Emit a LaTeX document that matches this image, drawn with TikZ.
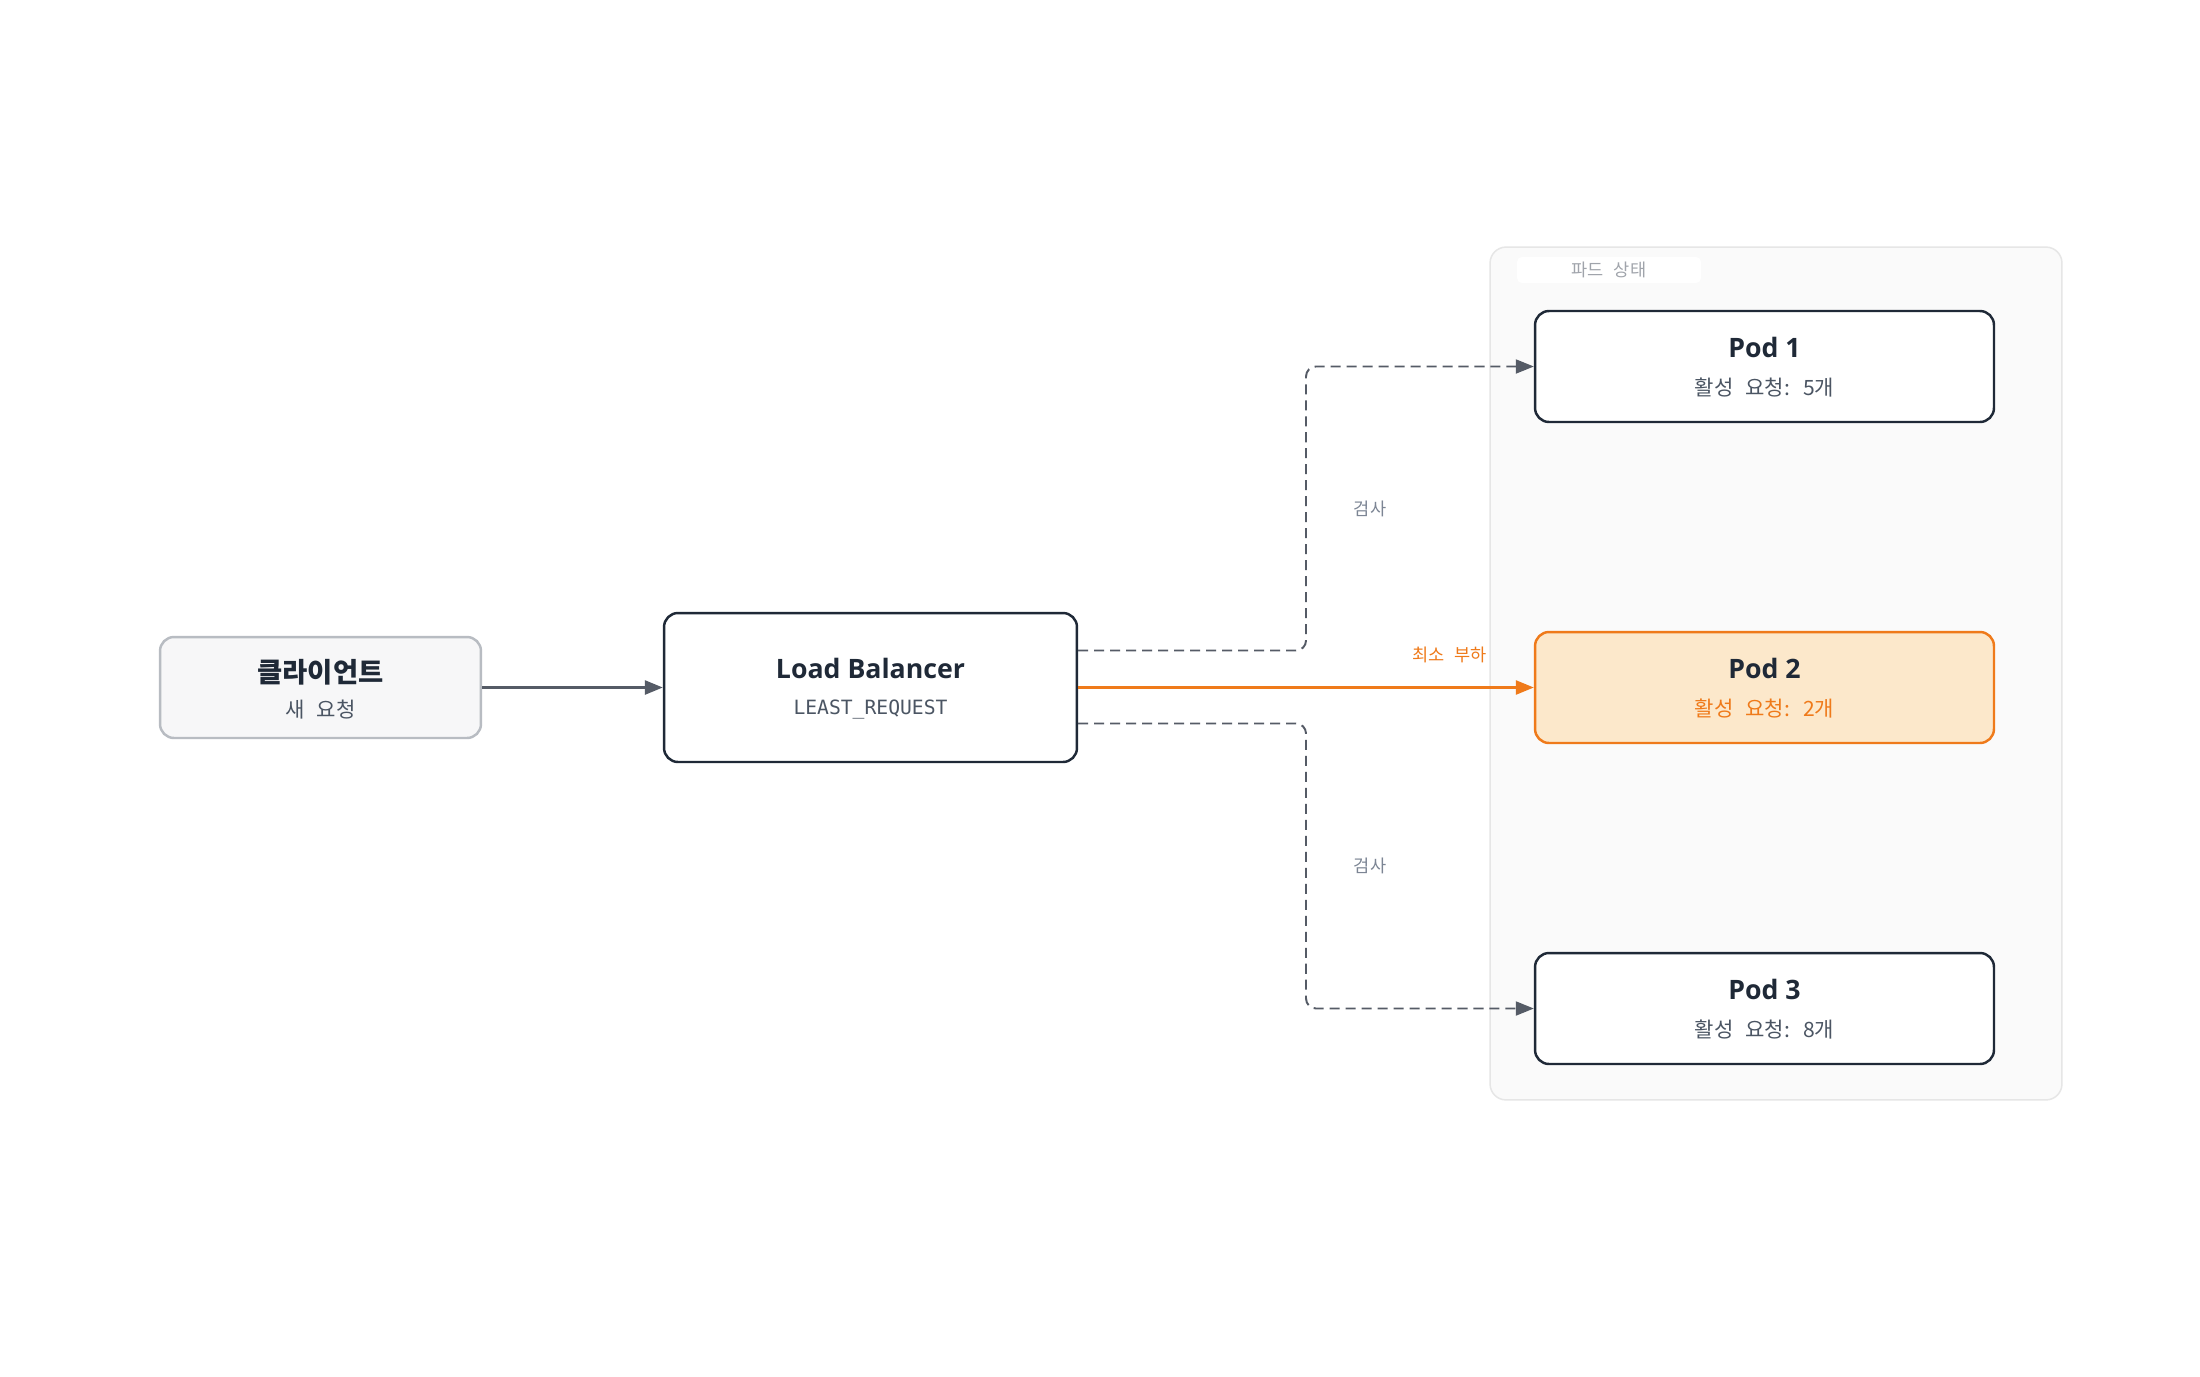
\documentclass[tikz,border=0pt]{standalone}
\usepackage{fontspec}
\setmainfont{Open Sans}
\setmonofont{DejaVu Sans Mono}
\newfontfamily\kr{Noto Sans CJK KR}[WordSpace=2.5]
\usepackage{xcolor}
\usetikzlibrary{positioning,calc,arrows.meta}

\definecolor{ink}{HTML}{1F2937}
\definecolor{subgray}{HTML}{4B5563}
\definecolor{wire}{HTML}{555B66}
\definecolor{cfill}{HTML}{F7F7F8}
\definecolor{cline}{HTML}{B8BCC2}
\definecolor{gfill}{HTML}{FAFAFA}
\definecolor{gline}{HTML}{E6E6E6}
\definecolor{glabel}{HTML}{A0A4AB}
\definecolor{elabel}{HTML}{7C8594}
\definecolor{hot}{HTML}{EF7A1A}
\definecolor{hotfill}{HTML}{FCE8CB}

\newcommand\ttlfont{\fontsize{15.2pt}{17pt}\selectfont\bfseries}
\newcommand\subfont{\fontsize{12pt}{14pt}\selectfont}
\newcommand\edgefont{\fontsize{10pt}{12pt}\selectfont}

\begin{document}
\begin{tikzpicture}[x=0.02cm,y=-0.02cm,
	box/.style={draw=ink,line width=1.4pt,rounded corners=0.28cm,fill=white,inner sep=0pt},
	podbox/.style={box,minimum width=9.18cm,minimum height=2.22cm},
	ttl/.style={anchor=base,text=ink,font=\ttlfont},
	sub/.style={anchor=base,text=subgray,font=\subfont\kr},
	edge label/.style={text=elabel,font=\edgefont\kr},
	checkline/.style={draw=wire,line width=1.1pt,dash pattern=on 5.7pt off 3.4pt,rounded corners=0.2cm,-{Triangle[length=0.36cm,width=0.28cm]}},
	pickline/.style={draw=hot,line width=1.4pt,-{Triangle[length=0.36cm,width=0.28cm]}}]
	\useasboundingbox (0,0) rectangle (2200,1376);
	\fill[white] (0,0) rectangle (2200,1376);
	
	% pod group
	\node[draw=gline,fill=gfill,line width=0.85pt,rounded corners=0.32cm,minimum width=11.44cm,minimum height=17.06cm] (group) at (1776,673.5) {};
	\node[fill=white,rounded corners=0.1cm,minimum width=3.68cm,minimum height=0.52cm,inner sep=0pt,text=glabel,font=\edgefont\kr] (grouplabel) at (1609,270) {파드 상태};
	
	% client and balancer
	\node[box,draw=cline,fill=cfill,minimum width=6.42cm,minimum height=2.02cm] (client) at (320.5,687.5) {};
	\node[ttl,font=\fontsize{15.6pt}{17pt}\selectfont\bfseries\kr] (clientt) at ($(client)+(0,-5)$) {클라이언트};
	\node[sub] (clients) at ($(client)+(0,30)$) {새 요청};
	
	\node[box,minimum width=8.26cm,minimum height=2.98cm] (lb) at (870.5,687.5) {};
	\node[ttl] (lbt) at ($(lb)+(0,-9)$) {Load Balancer};
	\node[sub,font=\fontsize{11.2pt}{13pt}\selectfont\ttfamily] (lbs) at ($(lb)+(0,27)$) {LEAST\_REQUEST};
	
	% pods
	\node[podbox] (pod1) at (1764.5,366.5) {};
	\node[ttl] (pod1t) at ($(pod1)+(0,-9)$) {Pod 1};
	\node[sub] (pod1s) at ($(pod1)+(0,29)$) {활성 요청: 5개};
	
	\node[podbox,draw=hot,fill=hotfill] (pod2) at (1764.5,687.5) {};
	\node[ttl] (pod2t) at ($(pod2)+(0,-9)$) {Pod 2};
	\node[sub,text=hot] (pod2s) at ($(pod2)+(0,29)$) {활성 요청: 2개};
	
	\node[podbox] (pod3) at (1764.5,1008.5) {};
	\node[ttl] (pod3t) at ($(pod3)+(0,-9)$) {Pod 3};
	\node[sub] (pod3s) at ($(pod3)+(0,29)$) {활성 요청: 8개};
	
	% connectors
	\coordinate (split) at (1306,687.5);
	\draw[draw=wire,line width=1.5pt,-{Triangle[length=0.36cm,width=0.28cm]}] (client.east) -- (lb.west);
	\draw[checkline] ([yshift=0.74cm]lb.east) coordinate (up) -- (split |- up) -- (split |- pod1.west) node[edge label,midway,xshift=1.28cm] {검사} -- (pod1.west);
	\draw[checkline] ([yshift=-0.72cm]lb.east) coordinate (down) -- (split |- down) -- (split |- pod3.west) node[edge label,midway,xshift=1.28cm] {검사} -- (pod3.west);
	\draw[pickline] (lb.east) -- (pod2.west) node[pos=0.815,yshift=0.66cm,text=hot,font=\edgefont\kr] {최소 부하};
\end{tikzpicture}
\end{document}
